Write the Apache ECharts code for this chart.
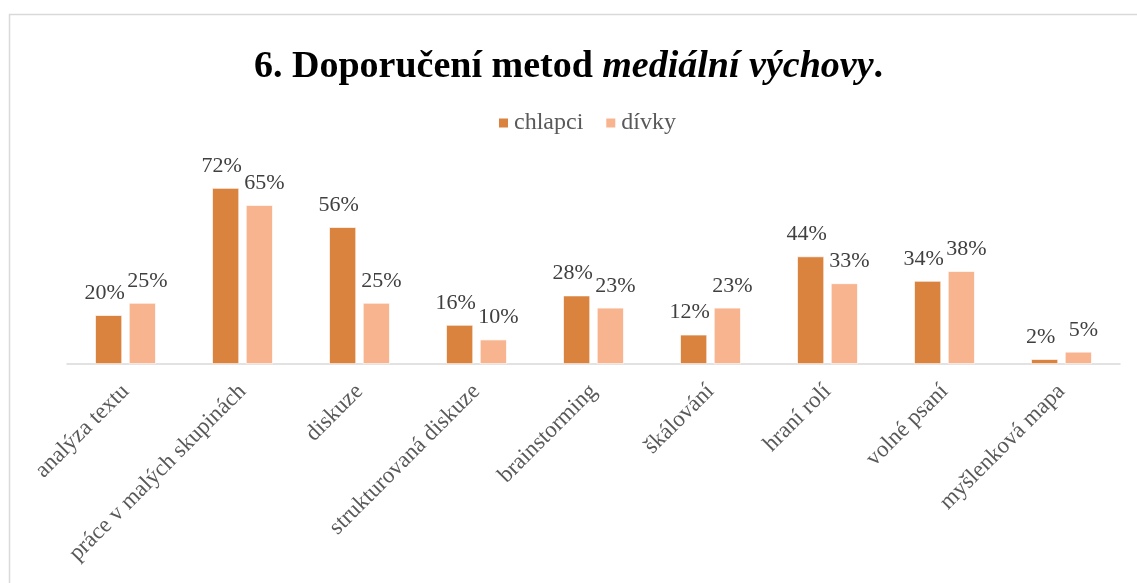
<!DOCTYPE html>
<html>
<head>
<meta charset="utf-8">
<script src="https://cdn.jsdelivr.net/npm/echarts@6/dist/echarts.min.js"></script>
<style>html,body{margin:0;padding:0;background:#fff}#c{width:1137px;height:583px}</style>
</head>
<body>
<div id="c"></div>
<script>
const categories = ['analýza textu','práce v malých skupinách','diskuze','strukturovaná diskuze','brainstorming','škálování','hraní rolí','volné psaní','myšlenková mapa'];
const chlapci = [20,72,56,16,28,12,44,34,2];
const divky = [25,65,25,10,23,23,33,38,5];
const seriesNames = ['chlapci','dívky'];

const chart = echarts.init(document.getElementById('c'));
const font = '"Liberation Serif", "Times New Roman", serif';
chart.setOption({
  backgroundColor: '#fff',
  animation: false,
  graphic: [{
    type: 'rect', shape: {x: 9.5, y: 14.5, width: 1140, height: 600},
    style: {fill: 'none', stroke: '#d9d9d9', lineWidth: 1.5}, silent: true
  }],
  title: {
    text: '{b|6. Doporučení metod }{i|mediální výchovy}{b|.}',
    left: 'center', top: 43,
    textStyle: {
      rich: {
        b: {fontFamily: font, fontSize: 38, fontWeight: 'bold', color: '#000'},
        i: {fontFamily: font, fontSize: 38, fontWeight: 'bold', fontStyle: 'italic', color: '#000'}
      }
    }
  },
  legend: {
    data: seriesNames, top: 106, left: 492,
    itemWidth: 11, itemHeight: 11, itemGap: 21,
    icon: 'rect',
    textStyle: {fontFamily: font, fontSize: 24, color: '#595959'}
  },
  grid: {left: 67, right: 17, top: 168.4, bottom: 219},
  xAxis: {
    type: 'category', data: categories,
    axisLine: {lineStyle: {color: '#d9d9d9', width: 1.5}},
    axisTick: {show: false},
    axisLabel: {rotate: 45, margin: 24, fontFamily: font, fontSize: 23, color: '#595959', interval: 0}
  },
  yAxis: {type: 'value', min: 0, max: 80, show: false, splitLine: {show: false}},
  series: [
    {name: seriesNames[0], type: 'bar', data: chlapci, barWidth: 27, barGap: '25%',
     itemStyle: {color: '#DA833F', borderColor: '#fff', borderWidth: 0.7},
     label: {show: true, position: 'top', distance: 11, formatter: '{c}%', fontFamily: font, fontSize: 22, color: '#404040', offset: [-4, 0]}},
    {name: seriesNames[1], type: 'bar', data: divky, barWidth: 27,
     itemStyle: {color: '#F8B48E', borderColor: '#fff', borderWidth: 0.7},
     label: {show: true, position: 'top', distance: 11, formatter: '{c}%', fontFamily: font, fontSize: 22, color: '#404040', offset: [5, 0]}}
  ]
});
</script>
</body>
</html>
